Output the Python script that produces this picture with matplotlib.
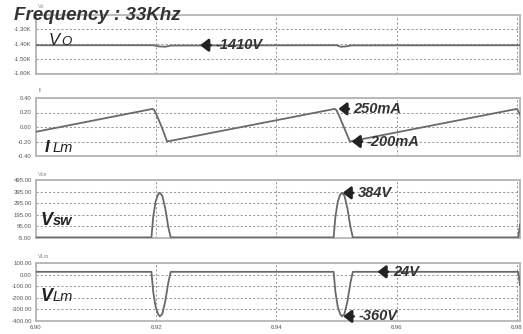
import matplotlib
matplotlib.use("Agg")
import matplotlib.pyplot as plt
from matplotlib.ticker import FixedLocator

plt.rcParams['font.family'] = ['Liberation Sans', 'DejaVu Sans']

W, H = 523, 334

# ---- data (time in ms) ----
vo_t = [6.900, 6.9195, 6.9205, 6.9215, 6.9225, 6.9500, 6.9507, 6.9515, 6.9525, 6.9805]
vo_v = [-1410, -1410, -1418, -1420, -1412, -1410, -1420, -1418, -1411, -1410]

ilm_t = [6.900, 6.9194, 6.9197, 6.9203, 6.9210, 6.9218, 6.9497, 6.9500, 6.9506, 6.9513, 6.9522, 6.9800, 6.9805]
ilm_v = [-0.066, 0.25, 0.23, 0.12, -0.02, -0.20, 0.25, 0.23, 0.12, -0.02, -0.20, 0.25, 0.17]

vsw_t = [6.900, 6.9192, 6.9195, 6.9199, 6.9203, 6.9206, 6.9210, 6.9215, 6.9220, 6.9224,
         6.9495, 6.9498, 6.9502, 6.9506, 6.9509, 6.9513, 6.9518, 6.9523, 6.9527, 6.9802, 6.9805]
vsw_v = [0, 0, 180, 310, 370, 384, 360, 250, 90, 0,
         0, 180, 310, 370, 384, 360, 250, 90, 0, 0, 110]

vlm_t = [6.900, 6.9192, 6.9195, 6.9199, 6.9203, 6.9206, 6.9210, 6.9215, 6.9220, 6.9224,
         6.9495, 6.9498, 6.9502, 6.9506, 6.9509, 6.9513, 6.9518, 6.9523, 6.9527, 6.9802, 6.9805]
vlm_v = [24, 24, -150, -280, -340, -360, -340, -230, -70, 24,
         24, -150, -280, -340, -360, -340, -230, -70, 24, 24, -90]

x_ticks = [6.90, 6.92, 6.94, 6.96, 6.98]
x_labels = ["6.90", "6.92", "6.94", "6.96", "6.98"]

vo_ticks = [-1300, -1400, -1500, -1600]
vo_labels = ["-1.30K", "-1.40K", "-1.50K", "-1.60K"]
ilm_ticks = [0.40, 0.20, 0.00, -0.20, -0.40]
ilm_labels = ["0.40", "0.20", "0.00", "-0.20", "-0.40"]
vsw_ticks = [495, 395, 295, 195, 95, -5]
vsw_labels = ["495.00", "395.00", "295.00", "195.00", "95.00", "-5.00"]
vlm_ticks = [100, 0, -100, -200, -300, -400]
vlm_labels = ["100.00", "0.00", "-100.00", "-200.00", "-300.00", "-400.00"]

fig = plt.figure(figsize=(W / 100, H / 100), dpi=100)
fig.patch.set_facecolor('white')

def axes_px(top, bottom, left=36, right=520):
    return fig.add_axes([left / W, 1 - bottom / H, (right - left) / W, (bottom - top) / H])

panels = [
    (15, 74, vo_t, vo_v, (-1605, -1205), vo_ticks, vo_labels, "Vo", 6),
    (98, 156, ilm_t, ilm_v, (-0.40, 0.40), ilm_ticks, ilm_labels, "Il", 90),
    (180, 238, vsw_t, vsw_v, (-5, 495), vsw_ticks, vsw_labels, "Vce", 175),
    (263, 321, vlm_t, vlm_v, (-400, 100), vlm_ticks, vlm_labels, "VLm", 256),
]

axes = []
for i, (top, bot, t, v, yl, yt, ylab, name, ny) in enumerate(panels):
    ax = axes_px(top, bot)
    ax.plot(t, v, color='#6a6a6a', lw=1.3, zorder=3)
    ax.set_xlim(6.90, 6.9805)
    ax.set_ylim(*yl)
    ax.yaxis.set_major_locator(FixedLocator(yt))
    ax.set_yticklabels(ylab)
    ax.xaxis.set_major_locator(FixedLocator(x_ticks))
    if i == 3:
        ax.set_xticklabels(x_labels)
    else:
        ax.set_xticklabels([])
    ax.tick_params(length=0, labelsize=4.3, labelcolor='#555555', pad=3)
    ax.grid(True, color='#999999', ls=(0, (2, 2)), lw=0.75)
    for s in ax.spines.values():
        s.set_color('#b5b5b5')
        s.set_linewidth(1.3)
    fig.text(38 / W, 1 - ny / H, name, fontsize=4, color='#888888', ha='left', va='center')
    axes.append(ax)

def ftext(x, y, s, **kw):
    fig.text(x / W, 1 - y / H, s, ha='left', va='baseline', **kw)

# title
ftext(14, 20, "Frequency : 33Khz", fontsize=13.5, fontweight='bold', style='italic', color='#333333')

# big waveform labels
ftext(49, 45, "V", fontsize=12, style='italic', color='#222222')
ftext(61, 45, "O", fontsize=9.5, style='italic', color='#222222')
ftext(45, 152, "I", fontsize=12, fontweight='bold', style='italic', color='#222222')
ftext(53, 152, "Lm", fontsize=10.5, style='italic', color='#222222')
ftext(41, 225, "V", fontsize=13, fontweight='bold', style='italic', color='#222222')
ftext(53, 225, "sw", fontsize=10.5, fontweight='bold', style='italic', color='#222222')
ftext(41, 301, "V", fontsize=13, fontweight='bold', style='italic', color='#222222')
ftext(53, 301, "Lm", fontsize=10.5, style='italic', color='#222222')

def arrow_label(ax, s, xy, dx=11):
    ax.annotate(s, xy=xy, xytext=(dx, 0), textcoords='offset points',
                ha='left', va='center', fontsize=10.5, fontweight='bold', style='italic',
                color='#333333', zorder=5,
                arrowprops=dict(arrowstyle='-|>,head_width=0.35,head_length=0.45',
                                lw=2.0, color='#222222', shrinkA=1.5, shrinkB=0))

arrow_label(axes[0], "-1410V", (6.9273, -1410))
arrow_label(axes[1], "250mA", (6.9503, 0.25))
arrow_label(axes[1], "-200mA", (6.9525, -0.20))
arrow_label(axes[2], "384V", (6.9510, 384))
arrow_label(axes[3], "24V", (6.9568, 24))
arrow_label(axes[3], "-360V", (6.9511, -360))

fig.savefig("out.png", dpi=100, facecolor='white')
